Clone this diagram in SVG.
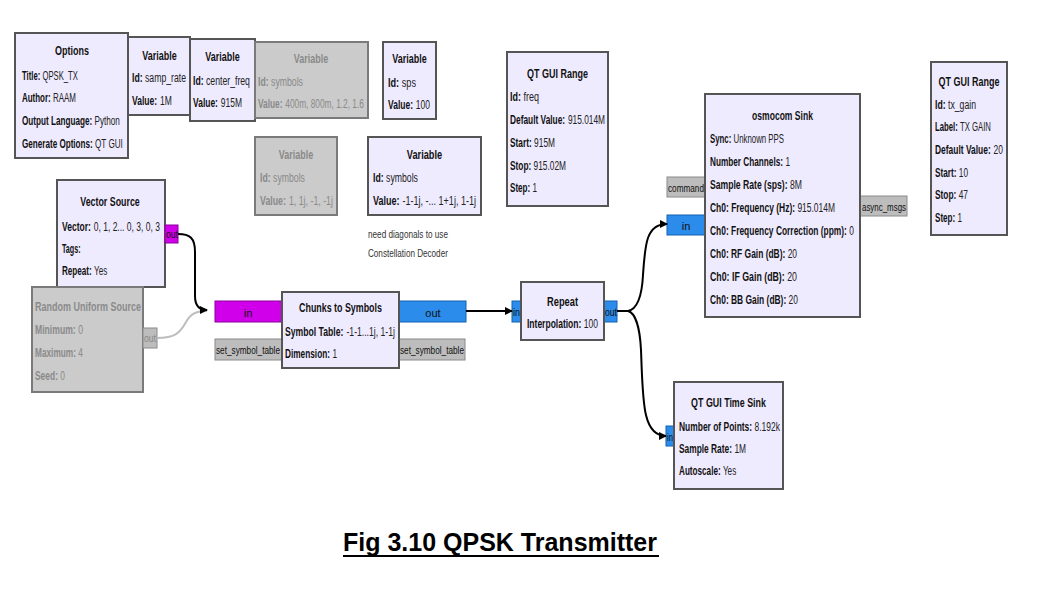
<svg xmlns="http://www.w3.org/2000/svg" width="1038" height="591" viewBox="0 0 1038 591">
<defs>
<marker id="ah" markerWidth="8" markerHeight="8" refX="7" refY="4" orient="auto" markerUnits="userSpaceOnUse">
<path d="M0,0 L8,4 L0,8 Z" fill="#000"/>
</marker>
<style>
.n{fill:#efebff;stroke:#555;stroke-width:2}
.d{fill:#cbcbcb;stroke:#7a7a7a;stroke-width:2}
text{font-family:"Liberation Sans",Arial,sans-serif;font-size:12px;fill:#222}
.tt{font-weight:bold;text-anchor:middle;fill:#111}
.k{font-weight:bold;fill:#111}
.g{fill:#8a8a8a}
.gk{font-weight:bold;fill:#8a8a8a}
.gt{font-weight:bold;text-anchor:middle;fill:#8a8a8a}
.pm{fill:#d000ea;stroke:#8a009a;stroke-width:1}
.pb{fill:#2b8ceb;stroke:#1561b0;stroke-width:1}
.pg{fill:#bdbdbd;stroke:#8a8a8a;stroke-width:1}
.pl{font-size:11px;fill:#111}
.pg2{font-size:11px;fill:#888}
.note{font-size:11px;fill:#333}
.c{fill:none;stroke:#000;stroke-width:2}
.cg{fill:none;stroke:#bdbdbd;stroke-width:2}
.cap{font-size:25px;font-weight:bold;fill:#000}
</style>
</defs>
<rect width="1038" height="591" fill="#fff"/>

<g id="options">
<rect class="n" x="15" y="33" width="113" height="125"/>
<text class="tt" transform="translate(72 55) scale(.75 1)">Options</text>
<text class="k" transform="translate(22 80) scale(.641 1)">Title:</text>
<text transform="translate(22 80) scale(.641 1)" x="32">QPSK_TX</text>
<text class="k" transform="translate(22 102) scale(.664 1)">Author:</text>
<text transform="translate(22 102) scale(.664 1)" x="46.66">RAAM</text>
<text class="k" transform="translate(22 125) scale(.68 1)">Output Language:</text>
<text transform="translate(22 125) scale(.68 1)" x="106.67">Python</text>
<text class="k" transform="translate(22 148) scale(.676 1)">Generate Options:</text>
<text transform="translate(22 148) scale(.676 1)" x="108.02">QT GUI</text>
</g>

<g id="var_samp_rate">
<rect class="n" x="128" y="37" width="62" height="78"/>
<text class="tt" transform="translate(159.5 60) scale(.75 1)">Variable</text>
<text class="k" transform="translate(132 82) scale(.723 1)">Id:</text>
<text transform="translate(132 82) scale(.723 1)" x="18">samp_rate</text>
<text class="k" transform="translate(132 105) scale(.714 1)">Value:</text>
<text transform="translate(132 105) scale(.714 1)" x="39.35">1M</text>
</g>

<g id="var_center_freq">
<rect class="n" x="190" y="39" width="65" height="82"/>
<text class="tt" transform="translate(222.5 61) scale(.75 1)">Variable</text>
<text class="k" transform="translate(193 85) scale(.724 1)">Id:</text>
<text transform="translate(193 85) scale(.724 1)" x="18">center_freq</text>
<text class="k" transform="translate(193 107) scale(.706 1)">Value:</text>
<text transform="translate(193 107) scale(.706 1)" x="39.35">915M</text>
</g>

<g id="var_symbols_disabled1">
<rect class="d" x="255" y="42" width="113" height="76"/>
<text class="gt" transform="translate(311 63) scale(.75 1)">Variable</text>
<text class="gk" transform="translate(258 86) scale(.726 1)">Id:</text>
<text class="g" transform="translate(258 86) scale(.726 1)" x="18">symbols</text>
<text class="gk" transform="translate(258 108) scale(.694 1)">Value:</text>
<text class="g" transform="translate(258 108) scale(.694 1)" x="39.35">400m, 800m, 1.2, 1.6</text>
</g>

<g id="var_sps">
<rect class="n" x="383" y="42" width="53" height="77"/>
<text class="tt" transform="translate(409.5 63) scale(.75 1)">Variable</text>
<text class="k" transform="translate(388 87) scale(.763 1)">Id:</text>
<text transform="translate(388 87) scale(.763 1)" x="18">sps</text>
<text class="k" transform="translate(388 109) scale(.707 1)">Value:</text>
<text transform="translate(388 109) scale(.707 1)" x="39.35">100</text>
</g>

<g id="qt_range_freq">
<rect class="n" x="507" y="52" width="101" height="154"/>
<text class="tt" transform="translate(557.5 78) scale(.75 1)">QT GUI Range</text>
<text class="k" transform="translate(510 101) scale(.75 1)">Id:</text>
<text transform="translate(510 101) scale(.75 1)" x="18">freq</text>
<text class="k" transform="translate(510 124) scale(.695 1)">Default Value:</text>
<text transform="translate(510 124) scale(.695 1)" x="83.35">915.014M</text>
<text class="k" transform="translate(510 147) scale(.696 1)">Start:</text>
<text transform="translate(510 147) scale(.696 1)" x="34.67">915M</text>
<text class="k" transform="translate(510 170) scale(.694 1)">Stop:</text>
<text transform="translate(510 170) scale(.694 1)" x="34">915.02M</text>
<text class="k" transform="translate(510 192) scale(.675 1)">Step:</text>
<text transform="translate(510 192) scale(.675 1)" x="33.34">1</text>
</g>

<g id="var_symbols_disabled2">
<rect class="d" x="255" y="137" width="82" height="78"/>
<text class="gt" transform="translate(296 159) scale(.75 1)">Variable</text>
<text class="gk" transform="translate(260 182) scale(.726 1)">Id:</text>
<text class="g" transform="translate(260 182) scale(.726 1)" x="18">symbols</text>
<text class="gk" transform="translate(260 205) scale(.735 1)">Value:</text>
<text class="g" transform="translate(260 205) scale(.735 1)" x="39.35">1, 1j, -1, -1j</text>
</g>

<g id="var_symbols">
<rect class="n" x="368" y="137" width="113" height="78"/>
<text class="tt" transform="translate(424.5 159) scale(.771 1)">Variable</text>
<text class="k" transform="translate(373 182) scale(.726 1)">Id:</text>
<text transform="translate(373 182) scale(.726 1)" x="18">symbols</text>
<text class="k" transform="translate(373 205) scale(.751 1)">Value:</text>
<text transform="translate(373 205) scale(.751 1)" x="39.35">-1-1j, -... 1+1j, 1-1j</text>
</g>

<g id="note">
<text class="note" transform="translate(368 238) scale(.743 1)">need diagonals to use</text>
<text class="note" transform="translate(368 257) scale(.739 1)">Constellation Decoder</text>
</g>

<g id="qt_range_tx_gain">
<rect class="n" x="931" y="62" width="76" height="173"/>
<text class="tt" transform="translate(969 86) scale(.75 1)">QT GUI Range</text>
<text class="k" transform="translate(935 109) scale(.723 1)">Id:</text>
<text transform="translate(935 109) scale(.723 1)" x="18">tx_gain</text>
<text class="k" transform="translate(935 131) scale(.646 1)">Label:</text>
<text transform="translate(935 131) scale(.646 1)" x="38.68">TX GAIN</text>
<text class="k" transform="translate(935 154) scale(.703 1)">Default Value:</text>
<text transform="translate(935 154) scale(.703 1)" x="83.35">20</text>
<text class="k" transform="translate(935 177) scale(.687 1)">Start:</text>
<text transform="translate(935 177) scale(.687 1)" x="34.67">10</text>
<text class="k" transform="translate(935 199) scale(.697 1)">Stop:</text>
<text transform="translate(935 199) scale(.697 1)" x="34">47</text>
<text class="k" transform="translate(935 222) scale(.675 1)">Step:</text>
<text transform="translate(935 222) scale(.675 1)" x="33.34">1</text>
</g>

<g id="vector_source">
<rect class="n" x="57" y="180" width="108" height="107"/>
<text class="tt" transform="translate(110 206) scale(.737 1)">Vector Source</text>
<text class="k" transform="translate(62 231) scale(.71 1)">Vector:</text>
<text transform="translate(62 231) scale(.71 1)" x="44.68">0, 1, 2... 0, 3, 0, 3</text>
<text class="k" transform="translate(62 253) scale(.6 1)">Tags:</text>
<text class="k" transform="translate(62 275) scale(.676 1)">Repeat:</text>
<text transform="translate(62 275) scale(.676 1)" x="47.34">Yes</text>
<rect class="pm" x="165" y="225" width="13" height="18"/>
<text class="pl" transform="translate(166 238) scale(.785 1)">out</text>
</g>

<g id="random_uniform_source">
<rect class="d" x="32" y="287" width="111" height="105"/>
<text class="gt" transform="translate(88 311) scale(.75 1)">Random Uniform Source</text>
<text class="gk" transform="translate(35 334) scale(.72 1)">Minimum:</text>
<text class="g" transform="translate(35 334) scale(.72 1)" x="60">0</text>
<text class="gk" transform="translate(35 357) scale(.692 1)">Maximum:</text>
<text class="g" transform="translate(35 357) scale(.692 1)" x="62.68">4</text>
<text class="gk" transform="translate(35 380) scale(.703 1)">Seed:</text>
<text class="g" transform="translate(35 380) scale(.703 1)" x="36.01">0</text>
<rect class="pg" x="143" y="328" width="14" height="20"/>
<text class="pg2" transform="translate(144 342) scale(.785 1)">out</text>
</g>

<g id="chunks_to_symbols">
<rect class="pm" x="215" y="301" width="67" height="21"/>
<text class="pl" x="248" y="317" text-anchor="middle">in</text>
<rect class="pb" x="399" y="301" width="67" height="21"/>
<text class="pl" x="433" y="317" text-anchor="middle">out</text>
<rect class="pg" x="215" y="339" width="67" height="21"/>
<text class="pl" transform="translate(216 354) scale(.748 1)">set_symbol_table</text>
<rect class="pg" x="399" y="339" width="66" height="21"/>
<text class="pl" transform="translate(400 354) scale(.748 1)">set_symbol_table</text>
<rect class="n" x="282" y="292" width="117" height="76"/>
<text class="tt" transform="translate(340.5 312) scale(.741 1)">Chunks to Symbols</text>
<text class="k" transform="translate(285 336) scale(.72 1)">Symbol Table:</text>
<text transform="translate(285 336) scale(.72 1)" x="85.36">-1-1...1j, 1-1j</text>
<text class="k" transform="translate(285 358) scale(.69 1)">Dimension:</text>
<text transform="translate(285 358) scale(.69 1)" x="68.68">1</text>
</g>

<g id="repeat">
<rect class="pb" x="512" y="301" width="9" height="21"/>
<text class="pl" transform="translate(513 316) scale(.81 1)">in</text>
<rect class="pb" x="604" y="301" width="13" height="21"/>
<text class="pl" transform="translate(605 316) scale(.785 1)">out</text>
<rect class="n" x="521" y="282" width="83" height="58"/>
<text class="tt" transform="translate(562.5 306) scale(.775 1)">Repeat</text>
<text class="k" transform="translate(527 328) scale(.71 1)">Interpolation:</text>
<text transform="translate(527 328) scale(.71 1)" x="80">100</text>
</g>

<g id="osmocom_sink">
<rect class="pg" x="667" y="177" width="38" height="20"/>
<text class="pl" transform="translate(668 192) scale(.745 1)">command</text>
<rect class="pb" x="667" y="215" width="38" height="20"/>
<text class="pl" x="686" y="230" text-anchor="middle">in</text>
<rect class="pg" x="860" y="196" width="47" height="20"/>
<text class="pl" transform="translate(862 211) scale(.72 1)">async_msgs</text>
<rect class="n" x="705" y="94" width="155" height="223"/>
<text class="tt" transform="translate(782.5 120) scale(.714 1)">osmocom Sink</text>
<text class="k" transform="translate(710 143) scale(.653 1)">Sync:</text>
<text transform="translate(710 143) scale(.653 1)" x="36.01">Unknown PPS</text>
<text class="k" transform="translate(710 166) scale(.686 1)">Number Channels:</text>
<text transform="translate(710 166) scale(.686 1)" x="110.02">1</text>
<text class="k" transform="translate(710 189) scale(.719 1)">Sample Rate (sps):</text>
<text transform="translate(710 189) scale(.719 1)" x="111.36">8M</text>
<text class="k" transform="translate(710 212) scale(.705 1)">Ch0: Frequency (Hz):</text>
<text transform="translate(710 212) scale(.705 1)" x="124">915.014M</text>
<text class="k" transform="translate(710 235) scale(.701 1)">Ch0: Frequency Correction (ppm):</text>
<text transform="translate(710 235) scale(.701 1)" x="198.68">0</text>
<text class="k" transform="translate(710 258) scale(.702 1)">Ch0: RF Gain (dB):</text>
<text transform="translate(710 258) scale(.702 1)" x="110.66">20</text>
<text class="k" transform="translate(710 281) scale(.733 1)">Ch0: IF Gain (dB):</text>
<text transform="translate(710 281) scale(.733 1)" x="105.34">20</text>
<text class="k" transform="translate(710 304) scale(.702 1)">Ch0: BB Gain (dB):</text>
<text transform="translate(710 304) scale(.702 1)" x="112">20</text>
</g>

<g id="qt_time_sink">
<rect class="pb" x="666" y="426" width="8" height="20"/>
<text class="pl" transform="translate(667 441) scale(.7 1)">in</text>
<rect class="n" x="674" y="382" width="109" height="107"/>
<text class="tt" transform="translate(728.5 407) scale(.74 1)">QT GUI Time Sink</text>
<text class="k" transform="translate(679 431) scale(.704 1)">Number of Points:</text>
<text transform="translate(679 431) scale(.704 1)" x="107.34">8.192k</text>
<text class="k" transform="translate(679 453) scale(.698 1)">Sample Rate:</text>
<text transform="translate(679 453) scale(.698 1)" x="79.36">1M</text>
<text class="k" transform="translate(679 475) scale(.679 1)">Autoscale:</text>
<text transform="translate(679 475) scale(.679 1)" x="64.68">Yes</text>
</g>

<g id="connectors">
<path class="cg" d="M157,338 C175,338 180,333 186,322 C191,313 197,311 207,311"/>
<path class="c" stroke-width="2.5" d="M178,234 C190,234 195,238 195,252 L195,296 C195,306 200,310 207,310" marker-end="url(#ah)"/>
<path class="c" d="M466,311 L512,311" marker-end="url(#ah)"/>
<path class="c" d="M617,311 L628,311 C638,309 642,295 643,275 C645,245 646,224 667,224" marker-end="url(#ah)"/>
<path class="c" d="M628,311 C636,313 640,330 641,350 C643,400 642,436 666,436" marker-end="url(#ah)"/>
</g>

<g id="caption">
<text class="cap" x="343" y="551">Fig 3.10 QPSK Transmitter</text>
<line x1="343" y1="556" x2="659" y2="556" stroke="#000" stroke-width="2"/>
</g>
</svg>
